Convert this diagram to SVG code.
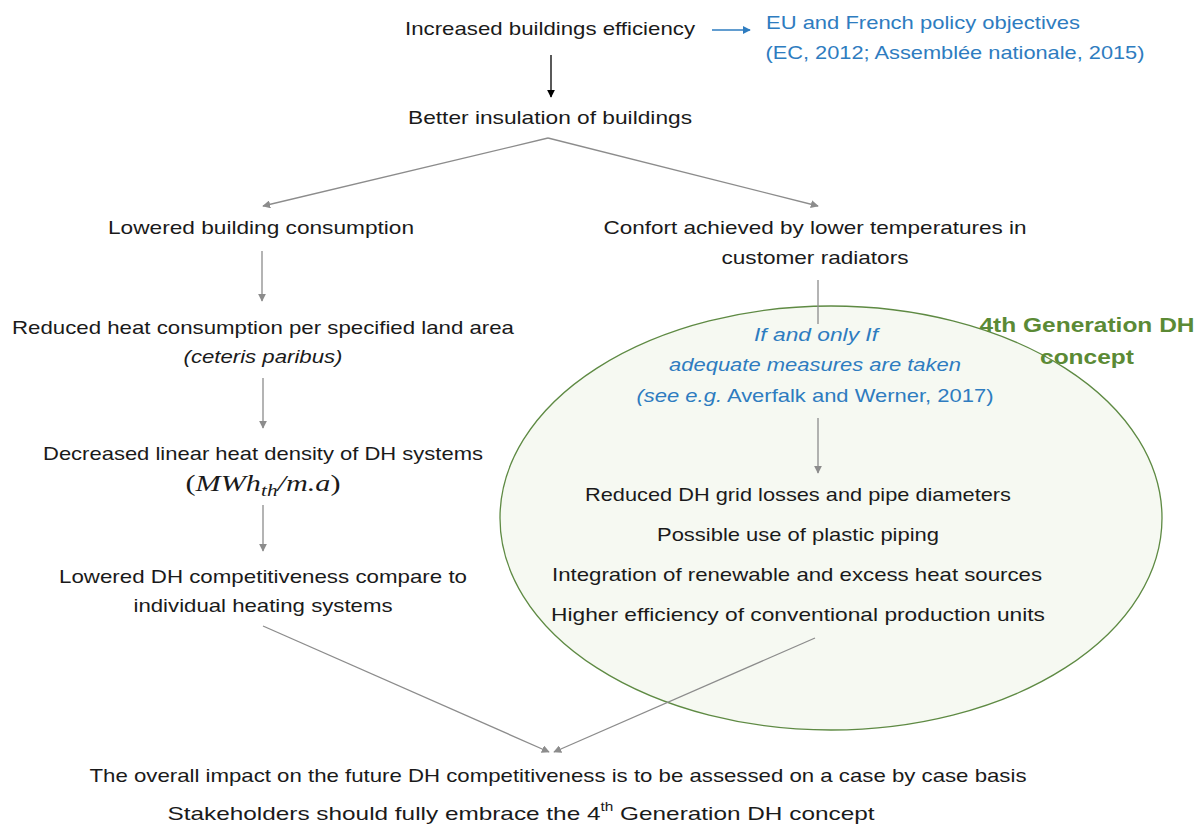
<svg xmlns="http://www.w3.org/2000/svg" width="1197" height="825" viewBox="0 0 1197 825">
<defs>
<style>
text{font-family:"Liberation Sans",Arial,sans-serif;font-size:19px;fill:#1a1a1a;text-anchor:middle}
.blue{fill:#2e7cc0}
.it{font-style:italic}
.green{fill:#5b8a35;font-weight:bold;font-size:20px}
.math{font-family:"Liberation Serif","DejaVu Serif",serif;font-style:italic;font-size:24px}
.gray{stroke:#8c8c8c;stroke-width:1.3;fill:none}
</style>
<marker id="ag" viewBox="0 0 10 10" refX="9" refY="5" markerWidth="8" markerHeight="8" orient="auto" markerUnits="userSpaceOnUse"><path d="M0,0 L10,5 L0,10 z" fill="#8c8c8c"/></marker>
<marker id="ak" viewBox="0 0 10 10" refX="9" refY="5" markerWidth="8" markerHeight="8" orient="auto" markerUnits="userSpaceOnUse"><path d="M0,0 L10,5 L0,10 z" fill="#000"/></marker>
<marker id="ab" viewBox="0 0 10 10" refX="9" refY="5" markerWidth="8" markerHeight="8" orient="auto" markerUnits="userSpaceOnUse"><path d="M0,0 L10,5 L0,10 z" fill="#2e7cc0"/></marker>
</defs>
<rect width="1197" height="825" fill="#fff"/>
<g id="concept4g">
<ellipse cx="831" cy="518" rx="331" ry="212" fill="#f6f9f2" stroke="#5e8a43" stroke-width="1.3"/>
<text class="green" x="1087" y="332" textLength="215" lengthAdjust="spacingAndGlyphs">4th Generation DH</text>
<text class="green" x="1087" y="364" textLength="94" lengthAdjust="spacingAndGlyphs">concept</text>
</g>
<g id="connectors">
<line x1="712" y1="30" x2="750" y2="30" stroke="#2e7cc0" stroke-width="1.3" marker-end="url(#ab)"/>
<line x1="551" y1="55" x2="551" y2="97" stroke="#000" stroke-width="1.3" marker-end="url(#ak)"/>
<line class="gray" x1="548" y1="138" x2="263" y2="206" marker-end="url(#ag)"/>
<line class="gray" x1="548" y1="138" x2="818" y2="206" marker-end="url(#ag)"/>
<line class="gray" x1="262" y1="251" x2="262" y2="301" marker-end="url(#ag)"/>
<line class="gray" x1="263" y1="378" x2="263" y2="428" marker-end="url(#ag)"/>
<line class="gray" x1="263" y1="505" x2="263" y2="551" marker-end="url(#ag)"/>
<line class="gray" x1="818" y1="280" x2="818" y2="324"/>
<line class="gray" x1="818" y1="418" x2="818" y2="473" marker-end="url(#ag)"/>
<line class="gray" x1="263" y1="626" x2="549" y2="752" marker-end="url(#ag)"/>
<line class="gray" x1="815" y1="638" x2="554" y2="752" marker-end="url(#ag)"/>
</g>
<g id="n-efficiency"><text x="550" y="35" textLength="290" lengthAdjust="spacingAndGlyphs">Increased buildings efficiency</text></g>
<g id="n-policy">
<text class="blue" x="923" y="29" textLength="314" lengthAdjust="spacingAndGlyphs">EU and French policy objectives</text>
<text class="blue" x="955" y="59" textLength="379" lengthAdjust="spacingAndGlyphs">(EC, 2012; Assemblée nationale, 2015)</text>
</g>
<g id="n-insulation"><text x="550" y="124" textLength="284" lengthAdjust="spacingAndGlyphs">Better insulation of buildings</text></g>
<g id="n-lowered"><text x="261" y="234" textLength="306" lengthAdjust="spacingAndGlyphs">Lowered building consumption</text></g>
<g id="n-confort">
<text x="815" y="234" textLength="423" lengthAdjust="spacingAndGlyphs">Confort achieved by lower temperatures in</text>
<text x="815" y="264" textLength="187" lengthAdjust="spacingAndGlyphs">customer radiators</text>
</g>
<g id="n-reduced">
<text x="263" y="334" textLength="502" lengthAdjust="spacingAndGlyphs">Reduced heat consumption per specified land area</text>
<text class="it" x="263" y="363" textLength="159" lengthAdjust="spacingAndGlyphs">(ceteris paribus)</text>
</g>
<g id="n-density">
<text x="263" y="460" textLength="440" lengthAdjust="spacingAndGlyphs">Decreased linear heat density of DH systems</text>
<text class="math" x="263" y="491" textLength="155" lengthAdjust="spacingAndGlyphs"><tspan font-style="normal">(</tspan>MWh<tspan font-size="17" dy="5">th</tspan><tspan dy="-5">/m.a</tspan><tspan font-style="normal">)</tspan></text>
</g>
<g id="n-competitiveness">
<text x="263" y="583" textLength="408" lengthAdjust="spacingAndGlyphs">Lowered DH competitiveness compare to</text>
<text x="263" y="612" textLength="259" lengthAdjust="spacingAndGlyphs">individual heating systems</text>
</g>
<g id="n-condition">
<text class="blue it" x="816" y="341" textLength="124" lengthAdjust="spacingAndGlyphs">If and only If</text>
<text class="blue it" x="815" y="371" textLength="292" lengthAdjust="spacingAndGlyphs">adequate measures are taken</text>
<text class="blue" x="815" y="402" textLength="357" lengthAdjust="spacingAndGlyphs"><tspan font-style="italic">(see e.g.</tspan> Averfalk and Werner, 2017)</text>
</g>
<g id="n-benefits">
<text x="798" y="501" textLength="426" lengthAdjust="spacingAndGlyphs">Reduced DH grid losses and pipe diameters</text>
<text x="798" y="541" textLength="282" lengthAdjust="spacingAndGlyphs">Possible use of plastic piping</text>
<text x="797" y="581" textLength="490" lengthAdjust="spacingAndGlyphs">Integration of renewable and excess heat sources</text>
<text x="798" y="621" textLength="494" lengthAdjust="spacingAndGlyphs">Higher efficiency of conventional production units</text>
</g>
<g id="n-conclusion">
<text x="558" y="782" font-size="20" textLength="937" lengthAdjust="spacingAndGlyphs">The overall impact on the future DH competitiveness is to be assessed on a case by case basis</text>
<text x="521" y="820" font-size="20" textLength="707" lengthAdjust="spacingAndGlyphs">Stakeholders should fully embrace the 4<tspan font-size="12" dy="-9">th</tspan><tspan dy="9"> Generation DH concept</tspan></text>
</g>
</svg>
